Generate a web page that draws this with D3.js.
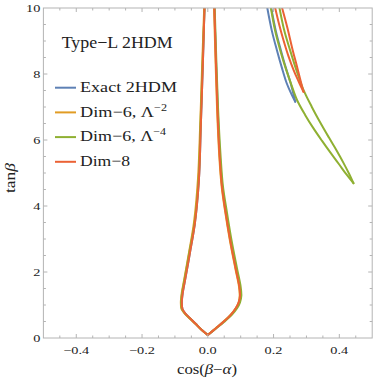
<!DOCTYPE html>
<html>
<head>
<meta charset="utf-8">
<script src="https://cdn.jsdelivr.net/npm/d3@7"></script>
<style>
  body { margin: 0; background: #fff; }
  text { font-family: "Liberation Serif", serif; fill: #222; }
</style>
</head>
<body>
<div id="chart"></div>
<script>
const WIDTH = 374
const HEIGHT = 387
const PLOT = { left: 43.4, right: 372.2, top: 8, bottom: 338 }

const X_DOMAIN = [-0.5, 0.5]
const Y_DOMAIN = [0, 10]
const X_TICKS = [-0.4, -0.2, 0, 0.2, 0.4]
const X_TICK_LABELS = ['\u22120.4', '\u22120.2', '0.0', '0.2', '0.4']
const Y_TICKS = [0, 2, 4, 6, 8, 10]
const Y_TICK_LABELS = ['0', '2', '4', '6', '8', '10']

const SERIES_NAMES = [['Exact 2HDM', ''], ['Dim\u22126, \u039B', '\u22122'], ['Dim\u22126, \u039B', '\u22124'], ['Dim\u22128', '']]
const COLORS = ['#5e81b5', '#e19c24', '#8fb032', '#eb6235']

// funnel around cos(b-a) = 0, left branch top -> bottom, right branch bottom -> top
const EXACT_FUNNEL_L = [[-0.010,10],[-0.016,8],[-0.021,6.5],[-0.027,4.8],[-0.039,3.5],[-0.054,2.6],[-0.069,1.76],[-0.076,1.38],[-0.079,1.08],[-0.077,0.88],[-0.068,0.74],[-0.054,0.60],[-0.037,0.43],[-0.018,0.24],[0,0.09]]
const EXACT_FUNNEL_R = [[0,0.09],[0.024,0.29],[0.048,0.49],[0.070,0.70],[0.086,0.90],[0.095,1.08],[0.099,1.28],[0.097,1.55],[0.086,2.1],[0.069,2.97],[0.054,3.88],[0.044,4.6],[0.037,5.5],[0.030,7],[0.020,10]]
const DIM6A_FUNNEL_L = [[-0.011,10],[-0.018,8],[-0.023,6.5],[-0.030,4.8],[-0.042,3.5],[-0.057,2.6],[-0.072,1.76],[-0.079,1.38],[-0.082,1.08],[-0.080,0.88],[-0.070,0.74],[-0.056,0.60],[-0.038,0.43],[-0.019,0.24],[0,0.09]]
const DIM6A_FUNNEL_R = [[0,0.09],[0.023,0.29],[0.047,0.49],[0.069,0.70],[0.085,0.90],[0.094,1.08],[0.097,1.28],[0.095,1.55],[0.084,2.1],[0.067,2.97],[0.052,3.88],[0.042,4.6],[0.035,5.5],[0.028,7],[0.019,10]]
const DIM6B_FUNNEL_L = [[-0.010,10],[-0.017,8],[-0.022,6.5],[-0.028,4.8],[-0.040,3.5],[-0.056,2.6],[-0.071,1.76],[-0.078,1.38],[-0.081,1.08],[-0.079,0.88],[-0.069,0.74],[-0.055,0.60],[-0.037,0.43],[-0.018,0.24],[0,0.09]]
const DIM6B_FUNNEL_R = [[0,0.09],[0.025,0.29],[0.050,0.49],[0.073,0.70],[0.089,0.90],[0.098,1.08],[0.102,1.28],[0.100,1.55],[0.089,2.1],[0.072,2.97],[0.057,3.88],[0.046,4.6],[0.039,5.5],[0.031,7],[0.021,10]]
const DIM8_FUNNEL_L = [[-0.010,10],[-0.016,8],[-0.021,6.5],[-0.027,4.8],[-0.039,3.5],[-0.054,2.6],[-0.069,1.76],[-0.076,1.38],[-0.079,1.08],[-0.077,0.88],[-0.068,0.74],[-0.054,0.60],[-0.037,0.43],[-0.018,0.24],[0,0.09]]
const DIM8_FUNNEL_R = [[0,0.09],[0.024,0.29],[0.048,0.49],[0.070,0.70],[0.085,0.90],[0.094,1.08],[0.098,1.28],[0.096,1.55],[0.085,2.1],[0.068,2.97],[0.053,3.88],[0.043,4.6],[0.036,5.5],[0.029,7],[0.020,10]]

// wedges on the right, each as two branches ending at the tip
const EXACT_WEDGE_A = [[0.181,10],[0.195,9.3],[0.210,8.73],[0.225,8.2],[0.240,7.72],[0.254,7.4],[0.266,7.16]]
const EXACT_WEDGE_B = [[0.193,10],[0.207,9.3],[0.222,8.73],[0.237,8.2],[0.252,7.72],[0.266,7.16]]
const DIM6B_WEDGE_A = [[0.192,10],[0.205,9.3],[0.220,8.73],[0.237,8.17],[0.254,7.68],[0.271,7.22],[0.296,6.76],[0.321,6.36],[0.347,5.98],[0.372,5.63],[0.398,5.28],[0.423,4.94],[0.443,4.69]]
const DIM6B_WEDGE_B = [[0.218,10],[0.233,9.3],[0.250,8.73],[0.270,8.1],[0.291,7.52],[0.316,7.01],[0.342,6.53],[0.368,6.08],[0.393,5.66],[0.413,5.30],[0.430,4.97],[0.443,4.69]]
const DIM8_WEDGE_A = [[0.205,10],[0.217,9.5],[0.230,9.03],[0.245,8.55],[0.261,8.12],[0.276,7.78],[0.291,7.46]]
const DIM8_WEDGE_B = [[0.226,10],[0.242,9.4],[0.258,8.73],[0.272,8.2],[0.282,7.8],[0.291,7.46]]

const BRANCHES = [
  [EXACT_FUNNEL_L, EXACT_FUNNEL_R, EXACT_WEDGE_A, EXACT_WEDGE_B],
  [DIM6A_FUNNEL_L, DIM6A_FUNNEL_R],
  [DIM6B_FUNNEL_L, DIM6B_FUNNEL_R, DIM6B_WEDGE_A, DIM6B_WEDGE_B],
  [DIM8_FUNNEL_L, DIM8_FUNNEL_R, DIM8_WEDGE_A, DIM8_WEDGE_B]
]

// the original uses a wide Computer Modern-like face, so widen the glyphs
function widen(sel, k) {
  sel.each(function() {
    let w = this.getComputedTextLength()
    d3.select(this).attr('textLength', w * k).attr('lengthAdjust', 'spacingAndGlyphs')
  })
}
function fit(sel, w) {
  sel.attr('textLength', w).attr('lengthAdjust', 'spacingAndGlyphs')
}

let svg = d3.select('#chart')
  .append('svg')
    .attr('width', WIDTH)
    .attr('height', HEIGHT)

let x = d3.scaleLinear().domain(X_DOMAIN).range([PLOT.left, PLOT.right])
let y = d3.scaleLinear().domain(Y_DOMAIN).range([PLOT.bottom, PLOT.top])

svg.append('defs').append('clipPath')
    .attr('id', 'plot-clip')
  .append('rect')
    .attr('x', PLOT.left)
    .attr('y', PLOT.top)
    .attr('width', PLOT.right - PLOT.left)
    .attr('height', PLOT.bottom - PLOT.top)

// contours
let line = d3.line()
  .x((d) => x(d[0]))
  .y((d) => y(d[1]))
  .curve(d3.curveCatmullRom.alpha(0.5))

let curves = svg.append('g').attr('clip-path', 'url(#plot-clip)')

BRANCHES.forEach((branches, i) => {
  curves.append('g')
    .selectAll('path')
    .data(branches)
    .enter().append('path')
      .attr('d', line)
      .attr('fill', 'none')
      .attr('stroke', COLORS[i])
      .attr('stroke-width', 2)
      .attr('stroke-linejoin', 'round')
      .attr('stroke-linecap', 'round')
})

// frame and ticks
const FRAME = '#b4b4b4'
let frame = svg.append('g')

frame.append('rect')
  .attr('x', PLOT.left)
  .attr('y', PLOT.top)
  .attr('width', PLOT.right - PLOT.left)
  .attr('height', PLOT.bottom - PLOT.top)
  .attr('fill', 'none')
  .attr('stroke', FRAME)
  .attr('stroke-width', 1)

let xMinor = x.ticks(20).filter((t) => t > X_DOMAIN[0] && t < X_DOMAIN[1])
let yMinor = y.ticks(20).filter((t) => t > Y_DOMAIN[0] && t < Y_DOMAIN[1])

xMinor.forEach((t) => {
  let major = X_TICKS.some((m) => Math.abs(m - t) < 1e-9)
  let len = major ? 4 : 2.5
  frame.append('line')
    .attr('x1', x(t)).attr('x2', x(t))
    .attr('y1', PLOT.bottom).attr('y2', PLOT.bottom - len)
    .attr('stroke', FRAME)
  frame.append('line')
    .attr('x1', x(t)).attr('x2', x(t))
    .attr('y1', PLOT.top).attr('y2', PLOT.top + len)
    .attr('stroke', FRAME)
})

yMinor.forEach((t) => {
  let major = Y_TICKS.some((m) => Math.abs(m - t) < 1e-9)
  let len = major ? 4 : 2.5
  frame.append('line')
    .attr('x1', PLOT.left).attr('x2', PLOT.left + len)
    .attr('y1', y(t)).attr('y2', y(t))
    .attr('stroke', FRAME)
  frame.append('line')
    .attr('x1', PLOT.right).attr('x2', PLOT.right - len)
    .attr('y1', y(t)).attr('y2', y(t))
    .attr('stroke', FRAME)
})

// tick labels
svg.append('g')
  .selectAll('text')
  .data(X_TICKS)
  .enter().append('text')
    .attr('x', (d) => x(d))
    .attr('y', PLOT.bottom + 16)
    .attr('text-anchor', 'middle')
    .style('font-size', '11px')
    .text((d, i) => X_TICK_LABELS[i])
    .call(widen, 1.3)

svg.append('g')
  .selectAll('text')
  .data(Y_TICKS)
  .enter().append('text')
    .attr('x', PLOT.left - 3)
    .attr('y', (d) => y(d) + 3.8)
    .attr('text-anchor', 'end')
    .style('font-size', '11px')
    .text((d, i) => Y_TICK_LABELS[i])
    .call(widen, 1.3)

// axis labels
let xlab = svg.append('text')
  .attr('x', 207)
  .attr('y', 374)
  .attr('text-anchor', 'middle')
  .style('font-size', '14px')
xlab.append('tspan').text('cos(')
xlab.append('tspan').style('font-style', 'italic').text('\u03B2')
xlab.append('tspan').text('\u2212')
xlab.append('tspan').style('font-style', 'italic').text('\u03B1')
xlab.append('tspan').text(')')
fit(xlab, 60)

let ylab = svg.append('text')
  .attr('transform', 'translate(15,178)rotate(-90)')
  .attr('text-anchor', 'middle')
  .style('font-size', '14px')
ylab.append('tspan').text('tan')
ylab.append('tspan').style('font-style', 'italic').text('\u03B2')
fit(ylab, 30)

// title and legend
svg.append('text')
  .attr('x', 61.7)
  .attr('y', 47.5)
  .style('font-size', '16.5px')
  .text('Type\u2212L 2HDM')
  .call(fit, 111)

const LEGEND = { x: 55, len: 21, top: 87.7, step: 24.7, widths: [97, 87, 86, 50] }

let legend = svg.append('g')
  .selectAll('g')
  .data(SERIES_NAMES)
  .enter().append('g')
    .attr('transform', (d, i) => 'translate(' + [LEGEND.x, LEGEND.top + i * LEGEND.step] + ')')

legend.append('line')
  .attr('x1', 0).attr('x2', LEGEND.len)
  .attr('stroke', (d, i) => COLORS[i])
  .attr('stroke-width', 2)

let ltext = legend.append('text')
  .attr('x', 25)
  .attr('y', 4.3)
  .style('font-size', '15px')
  .attr('textLength', (d, i) => LEGEND.widths[i])
  .attr('lengthAdjust', 'spacingAndGlyphs')

ltext.append('tspan').text((d) => d[0])
ltext.append('tspan')
  .attr('dy', -6)
  .style('font-size', '10px')
  .text((d) => d[1])
</script>
</body>
</html>
